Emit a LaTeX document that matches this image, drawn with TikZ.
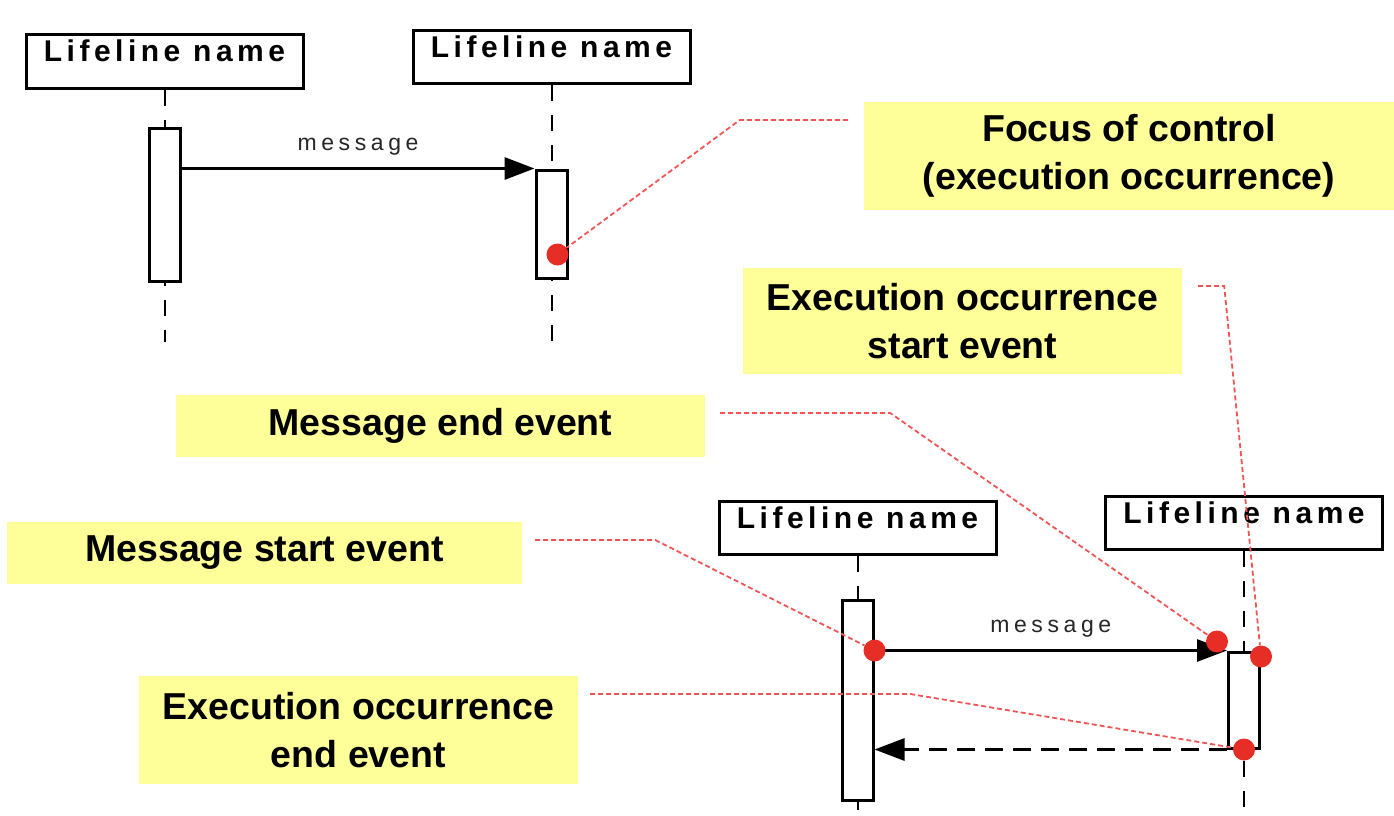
\documentclass[tikz,border=0pt]{standalone}
\usepackage{fontspec}
\setmainfont{Liberation Sans}
\newfontfamily\headfont[LetterSpace=15]{Liberation Sans}
\newfontfamily\msgfont[LetterSpace=20]{Liberation Sans}
\usetikzlibrary{arrows.meta}

\definecolor{notefill}{RGB}{255,255,153}
\definecolor{dotred}{RGB}{230,45,38}
\definecolor{leadred}{RGB}{240,85,85}

\tikzset{
  lifehead/.style={draw, line width=3pt, fill=white, minimum width=277pt,
    inner sep=0pt, text height=27pt, text depth=26pt,
    font=\headfont\bfseries\fontsize{30}{36}\selectfont},
  activation/.style={draw, line width=3pt, fill=white, minimum width=31pt, inner sep=0pt},
  lifeline/.style={line width=2pt, dash pattern=on 16pt off 14pt},
  msg/.style={line width=3pt, -{Triangle[length=30pt,width=22pt]}},
  reply/.style={msg, dash pattern=on 18pt off 10pt},
  msglabel/.style={font=\msgfont\fontsize{23}{27}\selectfont, text=black!85},
  note/.style={fill=notefill, inner sep=0pt, align=center,
    font=\bfseries\fontsize{37.5}{48}\selectfont},
  event/.style={circle, fill=dotred, minimum size=22pt, inner sep=0pt},
  leader/.style={leadred, line width=1.8pt, dash pattern=on 5pt off 3pt},
}

\begin{document}
\begin{tikzpicture}[x=1pt,y=-1pt]
  \useasboundingbox (0,0) rectangle (1394,816);

  % 1. lifeline heads and dashed lifelines
  \node[lifehead] (head1) at (164.5,61.5) {Lifeline name};
  \node[lifehead] (head2) at (551.5,57) {Lifeline name};
  \node[lifehead] (head3) at (857.5,528) {Lifeline name};
  \node[lifehead] (head4) at (1244,522.5) {Lifeline name};

  \draw[lifeline] (head1.south) -- ++(0,252);
  \draw[lifeline] (head2.south) -- ++(0,256);
  \draw[lifeline] (head3.south) -- ++(0,254);
  \draw[lifeline] (head4.south) -- ++(0,260);

  % 2. activation bars
  \node[activation, minimum height=153pt] (act1) at (164.5,204.5) {};
  \node[activation, minimum height=108pt] (act2) at (551.5,224) {};
  \node[activation, minimum height=200pt] (act3) at (857.5,700) {};
  \node[activation, minimum height=96pt] (act4) at (1244,700) {};

  % 3. messages
  \draw[msg] (act1.east |- act2.north) -- (act2.north west)
    node[midway, above=8pt, msglabel] {message};
  \draw[msg] (act3.east |- act4.north) -- (act4.north west)
    node[midway, above=8pt, msglabel] {message};
  \draw[reply] (act4.south west) -- (act3.east |- act4.south);

  % 4. yellow notes
  \node[note, minimum width=530pt, minimum height=108pt] (focus) at (1129,156)
    {Focus of control\\(execution occurrence)};
  \node[note, minimum width=439pt, minimum height=106pt] (exstart) at (962.5,321)
    {Execution occurrence\\start event};
  \node[note, minimum width=529pt, minimum height=62pt] (msgend) at (440.5,426)
    {Message end event};
  \node[note, minimum width=515pt, minimum height=62pt] (msgstart) at (264.5,553)
    {Message start event};
  \node[note, minimum width=439pt, minimum height=108pt] (exend) at (358.5,730)
    {Execution occurrence\\end event};

  % 5. event dots
  \node[event] (focusdot) at ([xshift=-11pt,yshift=25pt]act2.south east) {};
  \node[event] (startdot) at (act3.east |- act4.north) {};
  \node[event] (enddot) at ([xshift=-10pt,yshift=9pt]act4.north west) {};
  \node[event] (exstartdot) at ([yshift=-6pt]act4.north east) {};
  \node[event] (exenddot) at (act4.south) {};

  % 6. leaders from notes to events
  \draw[leader] ([xshift=-16pt,yshift=36pt]focus.west) -- ++(-108,0) -- (focusdot);
  \draw[leader] ([xshift=16pt,yshift=35pt]exstart.east) -- ++(26,0) -- (exstartdot);
  \draw[leader] ([xshift=15pt,yshift=13pt]msgend.east) -- ++(170,0) -- (enddot);
  \draw[leader] ([xshift=13pt,yshift=13pt]msgstart.east) -- ++(120,0) -- (startdot);
  \draw[leader] ([xshift=12pt,yshift=36pt]exend.east) -- ++(320,0) -- (exenddot);

\end{tikzpicture}
\end{document}
